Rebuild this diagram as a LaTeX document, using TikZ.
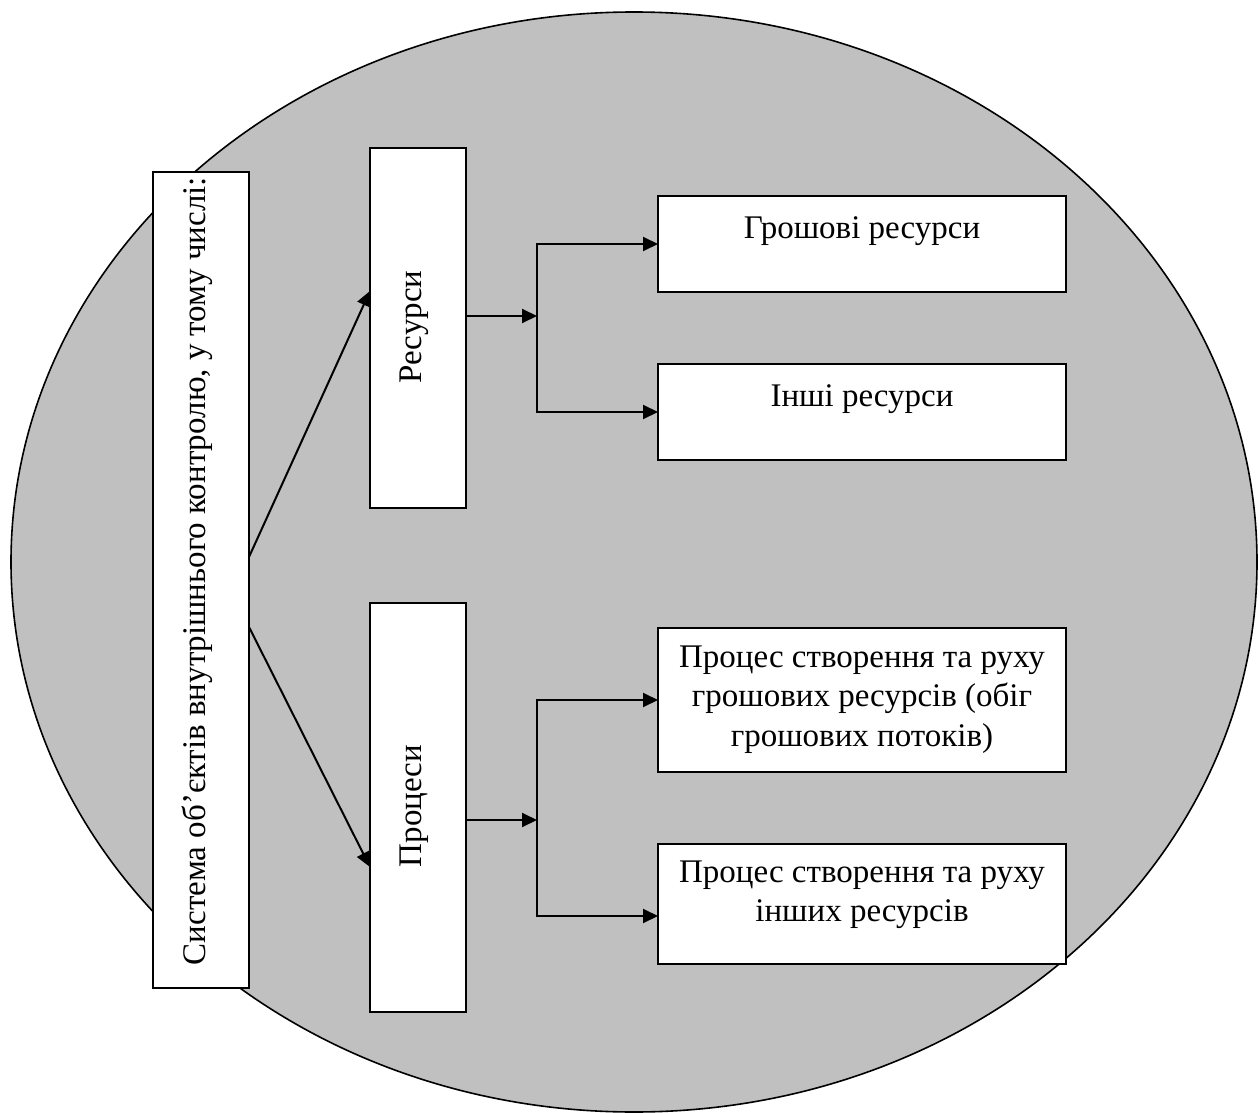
\documentclass[tikz,border=0pt]{standalone}
\usepackage{fontspec}
\setmainfont{Liberation Serif}
\usetikzlibrary{arrows.meta}
\definecolor{fieldgray}{RGB}{192,192,192}
\begin{document}
\begin{tikzpicture}[x=1pt,y=-1pt,
  box/.style={draw=black, line width=2pt, fill=white, inner sep=0pt, outer sep=0pt},
  lbl/.style={font=\fontsize{33}{39.5}\selectfont, inner sep=0pt, align=center},
  link/.style={line width=2pt, -{Triangle[length=15pt,width=14pt]}},
]
\useasboundingbox (0,0) rectangle (1259,1113);

% background field
\draw[line width=1.6pt, fill=fieldgray] (634,562) ellipse [x radius=623pt, y radius=550pt];

% boxes
\node[box, minimum width=96pt, minimum height=816pt] (main) at (201,580) {};
\node[box, minimum width=96pt, minimum height=360pt] (res) at (418,328) {};
\node[box, minimum width=96pt, minimum height=409pt] (proc) at (418,807.5) {};
\node[box, minimum width=408pt, minimum height=96pt] (g1) at (862,244) {};
\node[box, minimum width=408pt, minimum height=96pt] (g2) at (862,412) {};
\node[box, minimum width=408pt, minimum height=144pt] (p1) at (862,700) {};
\node[box, minimum width=408pt, minimum height=120pt] (p2) at (862,904) {};

% labels (base anchor = baseline of the last line)
\node[lbl, rotate=90, anchor=base] (main-t) at (205,571) {Система об’єктів внутрішнього контролю, у тому числі:};
\node[lbl, rotate=90, anchor=base] (res-t) at (421,327) {Ресурси};
\node[lbl, rotate=90, anchor=base] (proc-t) at (421,806) {Процеси};
\node[lbl, anchor=base] (g1-t) at (862,238) {Грошові ресурси};
\node[lbl, anchor=base] (g2-t) at (862,406) {Інші ресурси};
\node[lbl, anchor=base] (p1-t) at (862,746) {Процес створення та руху\\грошових ресурсів (обіг\\грошових потоків)};
\node[lbl, anchor=base] (p2-t) at (862,921.5) {Процес створення та руху\\інших ресурсів};

% junction points
\coordinate (jr) at (537,316);
\coordinate (jp) at (537,820);

% connectors
\draw[link] ([yshift=23pt]main.east) -- ([yshift=37pt]res.west);
\draw[link] ([yshift=-47pt]main.east) -- ([yshift=-59.5pt]proc.west);
\draw[link] ([yshift=12pt]res.east) -- (jr);
\draw[link] (jr) |- (g1.west);
\draw[link] (jr) |- (g2.west);
\draw[link] ([yshift=-12.5pt]proc.east) -- (jp);
\draw[link] (jp) |- (p1.west);
\draw[link] (jp) |- ([yshift=-12pt]p2.west);
\end{tikzpicture}
\end{document}
